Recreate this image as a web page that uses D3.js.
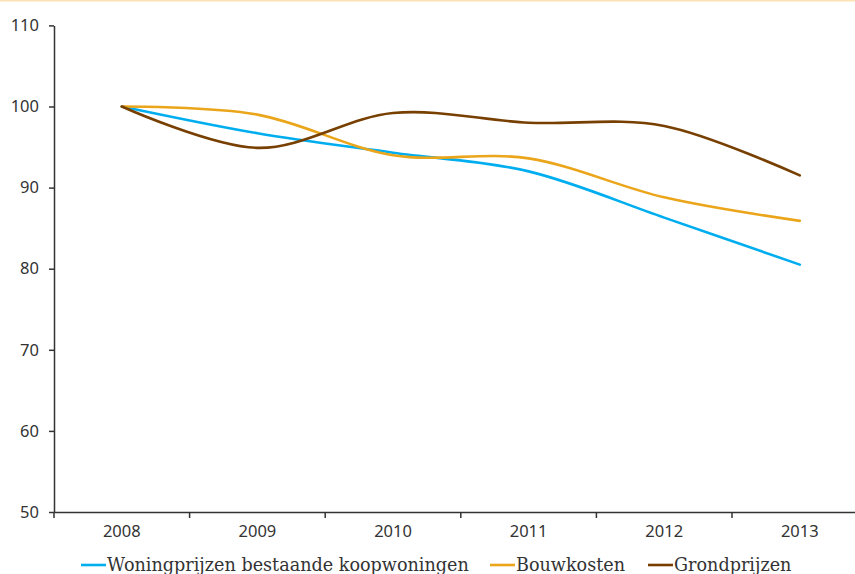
<!DOCTYPE html>
<html>
<head>
<meta charset="utf-8">
<script src="https://cdn.jsdelivr.net/npm/d3@7"></script>
<style>
  body { margin: 0; background: #fff; }
  svg { display: block; }
  .tick text { font-family: "Noto Sans", sans-serif; font-size: 16.5px; fill: #333; }
  .legend text { font-family: "DejaVu Serif", serif; font-size: 17.6px; fill: #333; }
</style>
</head>
<body>
<div id="chart"></div>
<script>
const years = ['2008', '2009', '2010', '2011', '2012', '2013'];
const woningprijzen = [100, 96.7, 94.3, 92.0, 86.3, 80.5];
const bouwkosten = [100, 99.0, 94.0, 93.6, 88.8, 85.9];
const grondprijzen = [100, 94.9, 99.2, 98.0, 97.6, 91.5];
const yTicks = [50, 60, 70, 80, 90, 100, 110];

const series = [
    { name: 'Woningprijzen bestaande koopwoningen', values: woningprijzen, color: '#00aeef' },
    { name: 'Bouwkosten', values: bouwkosten, color: '#eaa51a' },
    { name: 'Grondprijzen', values: grondprijzen, color: '#773f00' }
];

const width = 855, height = 574;
const left = 54, bandW = 135.6;

const svg = d3.select('#chart').append('svg')
    .attr('width', width)
    .attr('height', height);

// thin top rule
svg.append('rect')
    .attr('x', 0).attr('y', 0)
    .attr('width', width).attr('height', 1.5)
    .attr('fill', '#fde2b4');

const x = d3.scaleBand()
    .domain(years)
    .range([left, left + bandW * years.length]);

const y = d3.scaleLinear()
    .domain([50, 110])
    .range([512, 25.4]);

// y axis
const yAxis = svg.append('g')
    .attr('transform', `translate(${left},0)`)
    .call(d3.axisLeft(y).tickValues(yTicks).tickSize(5).tickPadding(10).tickSizeOuter(0));
yAxis.select('.domain').attr('stroke', '#333').attr('stroke-width', 1.5);
yAxis.selectAll('.tick line').attr('stroke', '#333').attr('stroke-width', 1.5);

// x axis labels
const xAxis = svg.append('g')
    .attr('transform', `translate(0,${y(50)})`)
    .call(d3.axisBottom(x).tickSize(0).tickPadding(13).tickSizeOuter(0));
xAxis.select('.domain').attr('stroke', '#333').attr('stroke-width', 1.5);

// tick marks between categories
const edges = years.map(d => x(d)).concat([x(years[years.length - 1]) + x.bandwidth()]);
svg.append('g').selectAll('line')
    .data(edges)
    .join('line')
    .attr('x1', d => d).attr('x2', d => d)
    .attr('y1', y(50)).attr('y2', y(50) + 6)
    .attr('stroke', '#333').attr('stroke-width', 1.5);

const line = d3.line()
    .x((d, i) => x(years[i]) + x.bandwidth() / 2)
    .y(d => y(d))
    .curve(d3.curveCardinal.tension(0));

svg.append('g').selectAll('path')
    .data(series)
    .join('path')
    .attr('d', d => line(d.values))
    .attr('fill', 'none')
    .attr('stroke', d => d.color)
    .attr('stroke-width', 2.6)
    .attr('stroke-linecap', 'round');

// legend
const legendX = [81, 490, 648];
const legend = svg.append('g').attr('class', 'legend');
const item = legend.selectAll('g')
    .data(series)
    .join('g')
    .attr('transform', (d, i) => `translate(${legendX[i]},565)`);
item.append('line')
    .attr('x1', 0).attr('x2', 25)
    .attr('stroke', d => d.color)
    .attr('stroke-width', 2.6);
item.append('text')
    .attr('x', 26)
    .attr('y', 6)
    .text(d => d.name);
</script>
</body>
</html>
